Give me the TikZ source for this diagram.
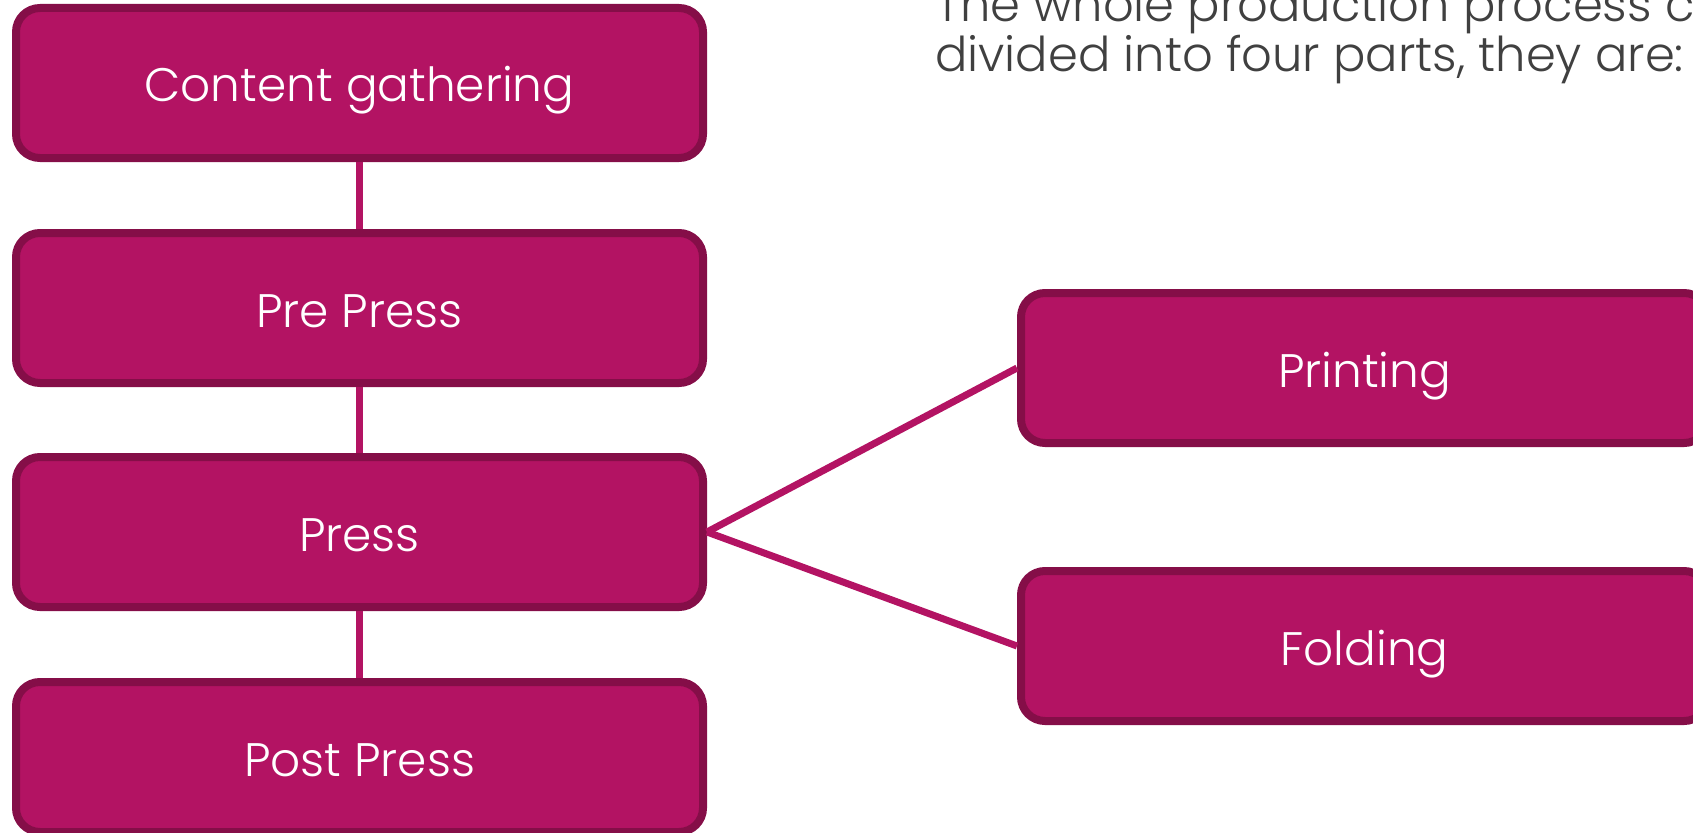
\documentclass[tikz,border=0pt]{standalone}
\usepackage{fontspec}
\setmainfont{Poppins Light}
\definecolor{boxfill}{RGB}{179,19,99}
\definecolor{boxedge}{RGB}{133,14,72}
\definecolor{linkcol}{RGB}{179,19,99}
\definecolor{textgray}{RGB}{64,64,64}
\newcommand\stxt[1]{\smash{\raisebox{-19pt}{#1}}}
\begin{document}
\begin{tikzpicture}[x=1pt,y=-1pt,
  stage/.style={rectangle, rounded corners=24pt, fill=boxfill, draw=boxedge,
    line width=8pt, minimum width=687pt, minimum height=150pt, inner sep=0pt,
    text=white, font=\fontsize{47}{52}\selectfont},
  link/.style={draw=linkcol, line width=7pt},
  note/.style={anchor=base west, inner sep=0pt, text=textgray, font=\fontsize{48}{50}\selectfont}
]
\useasboundingbox (0,0) rectangle (1693,832);
\node[stage] (cg) at (359.5,83) {\stxt{Content gathering}};
\node[stage] (pre) at (359.5,308) {\stxt{Pre Press}};
\node[stage] (press) at (359.5,532) {\stxt{Press}};
\node[stage] (post) at (359.5,757) {\stxt{Post Press}};
\node[stage] (print) at (1364.5,368) {\stxt{Printing}};
\node[stage] (fold) at (1364.5,646) {\stxt{Folding}};
\node[note] (t1) at (935,22) {The whole production process can be};
\node[note] (t2) at (935,72) {divided into four parts, they are:};
\draw[link] (cg.south) -- (pre.north);
\draw[link] (pre.south) -- (press.north);
\draw[link] (press.south) -- (post.north);
\draw[link] (press.east) -- (print.west);
\draw[link] (press.east) -- (fold.west);
\end{tikzpicture}
\end{document}
